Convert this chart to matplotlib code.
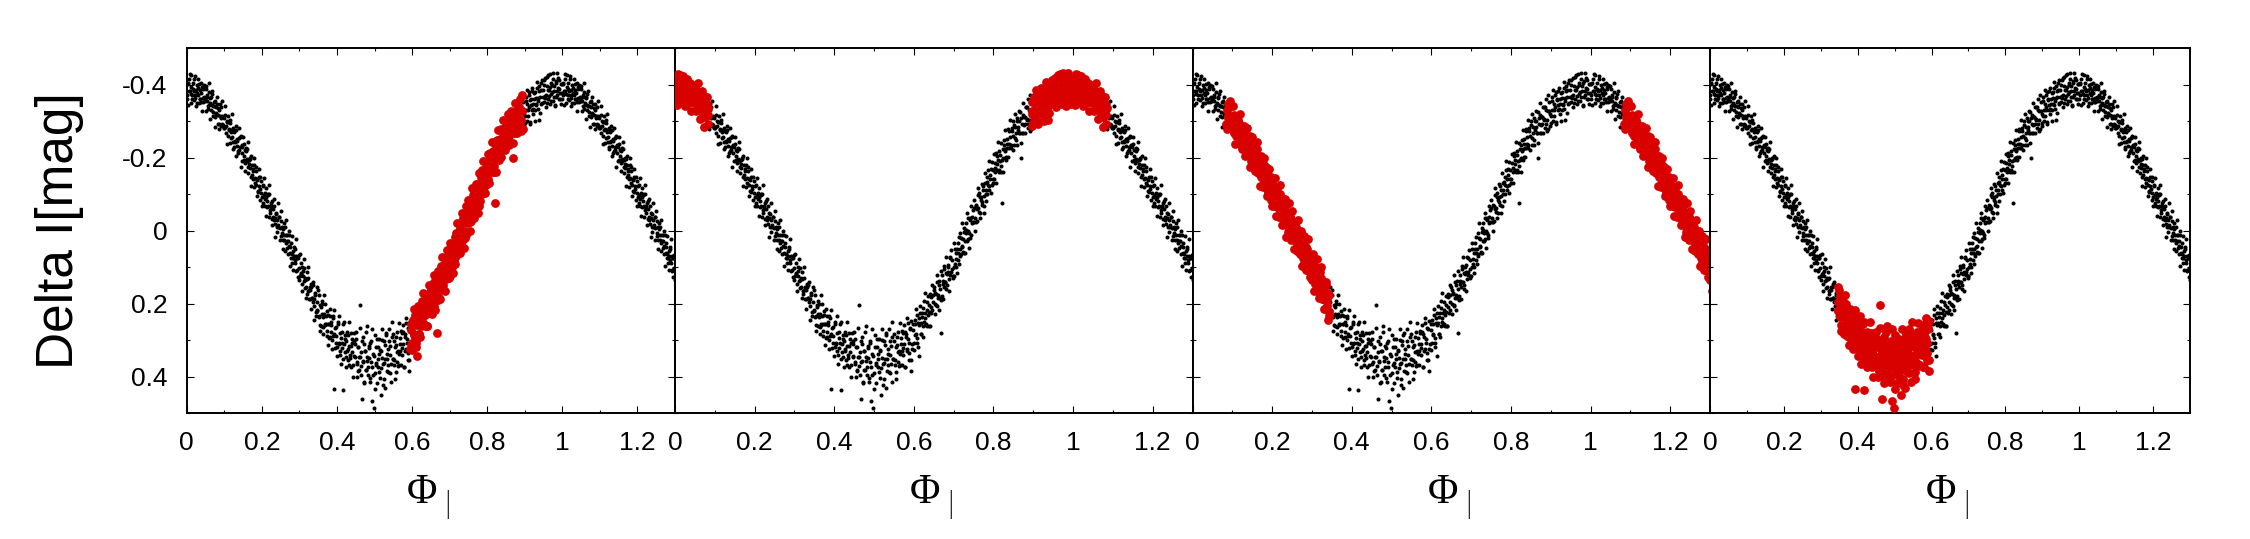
import numpy as np
import matplotlib
matplotlib.use("Agg")
import matplotlib.pyplot as plt
from matplotlib.ticker import MultipleLocator, FixedLocator, FuncFormatter

# ---- data: light curve (phase 0..1) ----
phase = [
    0.001,0.003,0.005,0.008,0.010,0.012,0.014,0.016,0.018,0.021,0.023,0.024,0.026,0.029,0.031,0.033,0.034,0.037,0.039,0.041,0.043,0.045,0.047,0.049,
    0.051,0.053,0.055,0.057,0.059,0.061,0.063,0.065,0.067,0.069,0.071,0.073,0.075,0.077,0.079,0.081,0.083,0.085,0.087,0.089,0.091,0.093,0.095,0.098,
    0.101,0.103,0.105,0.107,0.109,0.111,0.113,0.115,0.117,0.119,0.121,0.123,0.125,0.127,0.129,0.131,0.133,0.135,0.137,0.139,0.141,0.144,0.146,0.148,
    0.151,0.153,0.155,0.157,0.159,0.161,0.163,0.165,0.167,0.169,0.171,0.173,0.175,0.177,0.179,0.181,0.183,0.185,0.187,0.189,0.191,0.193,0.196,0.198,
    0.201,0.203,0.205,0.207,0.209,0.211,0.213,0.215,0.217,0.219,0.221,0.223,0.225,0.227,0.229,0.231,0.233,0.235,0.237,0.239,0.241,0.243,0.246,0.248,
    0.251,0.253,0.255,0.257,0.259,0.261,0.263,0.265,0.267,0.269,0.271,0.273,0.275,0.277,0.279,0.281,0.283,0.285,0.287,0.289,0.291,0.293,0.296,0.298,
    0.301,0.303,0.305,0.307,0.309,0.311,0.313,0.315,0.317,0.319,0.321,0.323,0.325,0.327,0.329,0.331,0.333,0.335,0.337,0.339,0.341,0.343,0.346,0.348,
    0.351,0.353,0.355,0.357,0.359,0.361,0.363,0.365,0.367,0.369,0.371,0.373,0.375,0.377,0.379,0.381,0.383,0.385,0.387,0.389,0.391,0.393,0.395,0.398,
    0.401,0.403,0.405,0.407,0.409,0.411,0.413,0.415,0.417,0.419,0.421,0.423,0.425,0.427,0.429,0.431,0.433,0.435,0.437,0.439,0.441,0.443,0.446,0.448,
    0.451,0.453,0.455,0.457,0.459,0.461,0.463,0.465,0.467,0.469,0.471,0.473,0.475,0.477,0.479,0.481,0.483,0.485,0.487,0.489,0.491,0.493,0.495,0.498,
    0.501,0.503,0.505,0.507,0.509,0.511,0.513,0.515,0.517,0.519,0.521,0.523,0.525,0.527,0.529,0.531,0.533,0.535,0.537,0.539,0.541,0.543,0.546,0.548,
    0.551,0.553,0.555,0.557,0.559,0.561,0.563,0.565,0.567,0.569,0.571,0.573,0.575,0.577,0.579,0.581,0.583,0.585,0.587,0.589,0.591,0.593,0.595,0.598,
    0.601,0.603,0.605,0.607,0.609,0.611,0.613,0.615,0.617,0.619,0.621,0.623,0.625,0.627,0.629,0.631,0.633,0.635,0.637,0.639,0.641,0.643,0.646,0.648,
    0.651,0.653,0.655,0.657,0.659,0.661,0.663,0.665,0.667,0.669,0.671,0.673,0.675,0.677,0.679,0.681,0.683,0.685,0.687,0.689,0.691,0.693,0.696,0.698,
    0.701,0.703,0.705,0.707,0.709,0.711,0.713,0.715,0.717,0.719,0.721,0.723,0.725,0.727,0.729,0.731,0.733,0.735,0.737,0.739,0.741,0.743,0.746,0.748,
    0.751,0.753,0.755,0.757,0.759,0.761,0.763,0.765,0.767,0.769,0.771,0.773,0.775,0.777,0.779,0.781,0.783,0.785,0.787,0.789,0.791,0.793,0.796,0.798,
    0.801,0.803,0.805,0.807,0.809,0.811,0.813,0.815,0.817,0.819,0.821,0.823,0.825,0.827,0.829,0.831,0.833,0.835,0.837,0.839,0.841,0.843,0.846,0.848,
    0.851,0.853,0.855,0.857,0.859,0.861,0.863,0.865,0.867,0.869,0.871,0.873,0.875,0.877,0.879,0.881,0.883,0.885,0.887,0.889,0.891,0.893,0.896,0.898,
    0.901,0.903,0.905,0.907,0.909,0.911,0.913,0.915,0.917,0.919,0.921,0.923,0.925,0.927,0.929,0.931,0.933,0.935,0.937,0.939,0.941,0.943,0.946,0.948,
    0.951,0.953,0.955,0.957,0.959,0.961,0.963,0.965,0.967,0.969,0.971,0.973,0.975,0.977,0.979,0.981,0.983,0.985,0.987,0.989,0.991,0.993,0.996,0.998,
    0.000,0.002,0.004,0.006,0.008,0.010,0.012,0.014,0.016,0.018,0.020,0.022,0.024,0.026,0.028,0.030,0.032,0.034,0.036,0.038,0.040,0.042,0.044,0.046,0.048,
    0.050,0.052,0.054,0.056,0.058,0.060,0.062,0.064,0.066,0.068,0.070,0.072,0.074,0.076,0.078,0.080,0.082,0.084,0.086,0.088,0.090,0.092,0.094,0.096,0.098,
    0.100,0.102,0.104,0.106,0.108,0.110,0.112,0.114,0.116,0.118,0.120,0.122,0.124,0.126,0.128,0.130,0.132,0.134,0.136,0.138,0.140,0.142,0.144,0.146,0.148,
    0.150,0.152,0.154,0.156,0.158,0.160,0.162,0.164,0.166,0.168,0.170,0.172,0.174,0.176,0.178,0.180,0.182,0.184,0.186,0.188,0.190,0.192,0.194,0.196,0.198,
    0.200,0.202,0.204,0.206,0.208,0.210,0.212,0.214,0.216,0.218,0.220,0.222,0.224,0.226,0.228,0.230,0.232,0.234,0.236,0.238,0.240,0.242,0.244,0.246,0.248,
    0.250,0.252,0.254,0.256,0.258,0.260,0.262,0.264,0.266,0.268,0.270,0.272,0.274,0.276,0.278,0.280,0.282,0.284,0.286,0.288,0.290,0.292,0.294,0.296,0.298,
    0.300,0.302,0.304,0.306,0.308,0.310,0.312,0.314,0.316,0.318,0.320,0.322,0.324,0.326,0.328,0.330,0.332,0.334,0.336,0.338,0.340,0.342,0.344,0.346,0.348,
    0.350,0.352,0.354,0.356,0.358,0.360,0.362,0.364,0.366,0.368,0.370,0.372,0.374,0.376,0.378,0.380,0.382,0.384,0.386,0.388,0.390,0.392,0.394,0.396,0.398,
    0.400,0.402,0.404,0.406,0.408,0.410,0.412,0.414,0.416,0.418,0.420,0.422,0.424,0.426,0.428,0.430,0.432,0.434,0.436,0.438,0.440,0.442,0.444,0.446,0.448,
    0.450,0.452,0.454,0.456,0.458,0.460,0.462,0.464,0.466,0.468,0.470,0.472,0.474,0.476,0.478,0.480,0.482,0.484,0.486,0.488,0.490,0.492,0.494,0.496,0.498,
    0.500,0.502,0.504,0.506,0.508,0.510,0.512,0.514,0.516,0.518,0.520,0.522,0.524,0.526,0.528,0.530,0.532,0.534,0.536,0.538,0.540,0.542,0.544,0.546,0.548,
    0.550,0.552,0.554,0.556,0.558,0.560,0.562,0.564,0.566,0.568,0.570,0.572,0.574,0.576,0.578,0.580,0.582,0.584,0.586,0.588,0.590,0.592,0.594,0.596,0.598,
    0.600,0.602,0.604,0.606,0.608,0.610,0.612,0.614,0.616,0.618,0.620,0.622,0.624,0.626,0.628,0.630,0.632,0.634,0.636,0.638,0.640,0.642,0.644,0.646,0.648,
    0.650,0.652,0.654,0.656,0.658,0.660,0.662,0.664,0.666,0.668,0.670,0.672,0.674,0.676,0.678,0.680,0.682,0.684,0.686,0.688,0.690,0.692,0.694,0.696,0.698,
    0.700,0.702,0.704,0.706,0.708,0.710,0.712,0.714,0.716,0.718,0.720,0.722,0.724,0.726,0.728,0.730,0.732,0.734,0.736,0.738,0.740,0.742,0.744,0.746,0.748,
    0.750,0.752,0.754,0.756,0.758,0.760,0.762,0.764,0.766,0.768,0.770,0.772,0.774,0.776,0.778,0.780,0.782,0.784,0.786,0.788,0.790,0.792,0.794,0.796,0.798,
    0.800,0.802,0.804,0.806,0.808,0.810,0.812,0.814,0.816,0.818,0.820,0.822,0.824,0.826,0.828,0.830,0.832,0.834,0.836,0.838,0.840,0.842,0.844,0.846,0.848,
    0.850,0.852,0.854,0.856,0.858,0.860,0.862,0.864,0.866,0.868,0.870,0.872,0.874,0.876,0.878,0.880,0.882,0.884,0.886,0.888,0.890,0.892,0.894,0.896,0.898,
    0.900,0.902,0.904,0.906,0.908,0.910,0.912,0.914,0.916,0.918,0.920,0.922,0.924,0.926,0.928,0.930,0.932,0.934,0.936,0.938,0.940,0.942,0.944,0.946,0.948,
    0.950,0.952,0.954,0.956,0.958,0.960,0.962,0.964,0.966,0.968,0.970,0.972,0.974,0.976,0.978,0.980,0.982,0.984,0.986,0.988,0.990,0.992,0.994,0.996,0.998,
]
delta_i = [
    -0.370,-0.404,-0.383,-0.428,-0.374,-0.393,-0.359,-0.404,-0.383,-0.422,-0.363,-0.385,-0.350,-0.390,-0.370,-0.402,-0.361,-0.377,-0.352,-0.392,-0.363,-0.400,-0.367,-0.354,
    -0.387,-0.354,-0.367,-0.334,-0.379,-0.348,-0.362,-0.330,-0.374,-0.340,-0.326,-0.352,-0.311,-0.338,-0.318,-0.347,-0.316,-0.291,-0.330,-0.314,-0.338,-0.293,-0.315,-0.282,
    -0.284,-0.316,-0.286,-0.298,-0.259,-0.298,-0.277,-0.303,-0.254,-0.274,-0.255,-0.281,-0.229,-0.269,-0.246,-0.274,-0.231,-0.245,-0.218,-0.253,-0.229,-0.259,-0.213,-0.230,
    -0.238,-0.204,-0.185,-0.218,-0.197,-0.222,-0.174,-0.193,-0.171,-0.197,-0.146,-0.179,-0.164,-0.140,-0.179,-0.145,-0.162,-0.125,-0.142,-0.108,-0.147,-0.121,-0.147,-0.103,
    -0.092,-0.126,-0.096,-0.067,-0.103,-0.091,-0.064,-0.098,-0.067,-0.099,-0.055,-0.063,-0.075,-0.031,-0.059,-0.030,-0.068,-0.034,-0.048,-0.010,-0.030,-0.009,-0.038,-0.006,
    -0.027,0.007,0.027,-0.003,0.012,-0.010,0.034,0.011,0.048,0.028,0.043,0.013,0.063,0.033,0.065,0.088,0.057,0.071,0.050,0.089,0.070,0.109,0.074,0.102,
    0.124,0.090,0.116,0.146,0.110,0.138,0.104,0.136,0.156,0.134,0.173,0.130,0.164,0.156,0.188,0.154,0.185,0.148,0.197,0.187,0.172,0.223,0.195,0.219,
    0.177,0.235,0.259,0.209,0.230,0.200,0.264,0.230,0.255,0.200,0.255,0.274,0.231,0.255,0.294,0.235,0.277,0.258,0.299,0.239,0.283,0.434,0.267,0.309,
    0.319,0.257,0.307,0.281,0.342,0.294,0.323,0.257,0.436,0.312,0.285,0.347,0.303,0.331,0.285,0.368,0.317,0.348,0.281,0.334,0.309,0.368,0.304,0.347,
    0.296,0.361,0.319,0.384,0.346,0.205,0.372,0.334,0.462,0.357,0.310,0.415,0.329,0.382,0.262,0.346,0.373,0.323,0.405,0.308,0.361,0.467,0.339,0.486,
    0.433,0.318,0.363,0.296,0.374,0.339,0.388,0.327,0.451,0.350,0.300,0.423,0.364,0.315,0.431,0.281,0.351,0.325,0.387,0.302,0.340,0.366,0.252,0.353,
    0.304,0.354,0.408,0.315,0.360,0.277,0.329,0.369,0.295,0.330,0.274,0.341,0.312,0.278,0.373,0.293,0.325,0.253,0.307,0.354,0.271,0.385,0.326,0.257,
    0.309,0.255,0.283,0.232,0.309,0.254,0.343,0.225,0.253,0.283,0.227,0.263,0.194,0.240,0.226,0.257,0.197,0.231,0.204,0.262,0.175,0.209,0.218,0.178,
    0.164,0.200,0.173,0.208,0.141,0.177,0.150,0.185,0.281,0.190,0.123,0.146,0.156,0.098,0.141,0.116,0.150,0.099,0.115,0.132,0.075,0.113,0.082,0.124,
    0.101,0.051,0.079,0.100,0.051,0.080,0.017,0.051,0.070,0.020,0.044,0.024,0.061,-0.006,0.028,-0.001,0.028,-0.034,0.000,0.006,-0.033,0.011,-0.036,-0.023,
    -0.063,-0.035,-0.024,-0.067,-0.059,-0.098,-0.052,-0.092,-0.047,-0.091,-0.077,-0.123,-0.094,-0.066,-0.131,-0.112,-0.133,-0.101,-0.166,-0.123,-0.142,-0.169,-0.124,-0.167,
    -0.142,-0.185,-0.170,-0.211,-0.167,-0.192,-0.159,-0.219,-0.191,-0.177,-0.076,-0.222,-0.198,-0.249,-0.223,-0.193,-0.250,-0.227,-0.278,-0.226,-0.257,-0.226,-0.281,-0.258,
    -0.290,-0.254,-0.284,-0.248,-0.308,-0.275,-0.300,-0.266,-0.324,-0.198,-0.293,-0.317,-0.268,-0.310,-0.292,-0.338,-0.302,-0.337,-0.291,-0.330,-0.273,-0.372,-0.327,-0.287,
    -0.314,-0.355,-0.299,-0.347,-0.329,-0.371,-0.293,-0.358,-0.345,-0.383,-0.333,-0.346,-0.377,-0.329,-0.362,-0.345,-0.391,-0.354,-0.304,-0.383,-0.366,-0.405,-0.348,-0.385,
    -0.398,-0.362,-0.417,-0.371,-0.349,-0.386,-0.425,-0.368,-0.392,-0.355,-0.404,-0.379,-0.431,-0.366,-0.395,-0.342,-0.410,-0.383,-0.372,-0.419,-0.388,-0.361,-0.402,-0.378,
    -0.359,-0.401,-0.344,-0.415,-0.382,-0.350,-0.426,-0.370,-0.387,-0.358,-0.415,-0.372,-0.340,-0.399,-0.377,-0.415,-0.349,-0.384,-0.359,-0.405,-0.328,-0.388,-0.351,-0.396,-0.360,
    -0.396,-0.328,-0.372,-0.341,-0.404,-0.343,-0.305,-0.367,-0.344,-0.381,-0.313,-0.341,-0.284,-0.355,-0.321,-0.367,-0.291,-0.335,-0.277,-0.346,-0.307,-0.287,-0.356,-0.290,-0.309,
    -0.282,-0.340,-0.267,-0.301,-0.238,-0.314,-0.275,-0.241,-0.294,-0.270,-0.320,-0.242,-0.222,-0.272,-0.243,-0.286,-0.203,-0.251,-0.212,-0.280,-0.221,-0.257,-0.175,-0.235,-0.190,
    -0.257,-0.194,-0.221,-0.162,-0.227,-0.190,-0.243,-0.158,-0.182,-0.198,-0.122,-0.205,-0.153,-0.169,-0.119,-0.198,-0.131,-0.173,-0.094,-0.138,-0.106,-0.168,-0.113,-0.084,-0.135,
    -0.068,-0.121,-0.074,-0.144,-0.085,-0.039,-0.117,-0.080,-0.100,-0.038,-0.124,-0.049,-0.066,-0.014,-0.081,-0.038,-0.085,-0.017,0.019,-0.046,0.003,-0.074,-0.016,-0.037,0.026,
    -0.054,0.014,-0.009,0.050,-0.021,0.025,0.055,-0.030,0.030,0.013,0.065,0.002,0.098,0.044,0.076,0.014,0.076,0.108,0.045,0.082,0.023,0.111,0.076,0.128,0.066,
    0.136,0.064,0.120,0.166,0.099,0.126,0.079,0.158,0.129,0.184,0.114,0.165,0.100,0.189,0.162,0.215,0.147,0.184,0.141,0.206,0.246,0.178,0.234,0.156,0.220,
    0.162,0.238,0.276,0.204,0.261,0.192,0.238,0.284,0.178,0.258,0.235,0.290,0.221,0.315,0.257,0.214,0.291,0.251,0.324,0.233,0.289,0.217,0.321,0.290,0.265,
    0.344,0.251,0.311,0.233,0.330,0.367,0.277,0.307,0.351,0.251,0.334,0.297,0.373,0.277,0.325,0.356,0.252,0.342,0.316,0.374,0.296,0.400,0.282,0.345,0.312,
    0.277,0.367,0.402,0.318,0.382,0.266,0.347,0.396,0.304,0.360,0.291,0.419,0.331,0.382,0.278,0.357,0.397,0.317,0.348,0.414,0.303,0.373,0.269,0.396,0.344,
    0.390,0.286,0.368,0.419,0.320,0.353,0.297,0.404,0.331,0.377,0.269,0.367,0.406,0.304,0.352,0.285,0.385,0.337,0.368,0.270,0.390,0.317,0.414,0.293,0.351,
    0.283,0.369,0.319,0.389,0.292,0.333,0.370,0.254,0.339,0.310,0.368,0.282,0.323,0.259,0.373,0.284,0.331,0.240,0.298,0.336,0.267,0.354,0.247,0.311,0.273,
    0.327,0.246,0.286,0.215,0.294,0.320,0.241,0.260,0.208,0.284,0.236,0.291,0.212,0.252,0.170,0.258,0.219,0.263,0.179,0.222,0.263,0.183,0.225,0.149,0.196,
    0.155,0.230,0.170,0.203,0.123,0.184,0.218,0.137,0.159,0.111,0.180,0.138,0.188,0.106,0.141,0.072,0.160,0.120,0.095,0.167,0.073,0.123,0.053,0.105,0.129,
    0.124,0.034,0.093,0.061,0.117,0.033,0.061,0.093,0.007,0.064,-0.020,0.043,0.060,0.003,0.063,-0.021,0.007,-0.049,0.023,0.047,-0.028,0.020,-0.066,-0.021,-0.057,
    -0.084,-0.024,0.000,-0.071,-0.027,-0.117,-0.062,-0.104,-0.035,-0.084,-0.128,-0.069,-0.110,-0.049,-0.157,-0.101,-0.081,-0.146,-0.126,-0.190,-0.110,-0.151,-0.102,-0.188,-0.142,
    -0.130,-0.210,-0.161,-0.129,-0.205,-0.182,-0.243,-0.167,-0.208,-0.160,-0.239,-0.193,-0.160,-0.235,-0.218,-0.274,-0.201,-0.238,-0.201,-0.272,-0.236,-0.303,-0.233,-0.273,-0.220,
    -0.300,-0.235,-0.320,-0.267,-0.233,-0.301,-0.283,-0.327,-0.266,-0.241,-0.308,-0.268,-0.349,-0.288,-0.312,-0.267,-0.338,-0.306,-0.281,-0.360,-0.302,-0.328,-0.278,-0.352,-0.319,
    -0.294,-0.365,-0.329,-0.384,-0.315,-0.339,-0.380,-0.298,-0.361,-0.330,-0.390,-0.320,-0.360,-0.301,-0.379,-0.347,-0.407,-0.333,-0.363,-0.396,-0.323,-0.386,-0.347,-0.413,-0.366,
    -0.352,-0.411,-0.369,-0.338,-0.397,-0.421,-0.360,-0.385,-0.347,-0.428,-0.374,-0.399,-0.356,-0.416,-0.381,-0.343,-0.405,-0.367,-0.432,-0.390,-0.359,-0.412,-0.377,-0.346,-0.401,
]

# phase window highlighted in red in each panel (start, end), may wrap past 1
red_windows = [(0.595, 0.895), (0.895, 0.085), (0.085, 0.345), (0.345, 0.595)]
x_ticks = [0, 0.2, 0.4, 0.6, 0.8, 1.0, 1.2]
y_ticks = [-0.4, -0.2, 0, 0.2, 0.4]
x_label_main = "\u03a6"
x_label_sub = "I"
y_label = "Delta I[mag]"

plt.rcParams["font.family"] = ["Liberation Sans", "DejaVu Sans"]

W, H = 2250, 539
fig = plt.figure(figsize=(W / 100, H / 100), dpi=100)

lefts = [186.8, 675.0, 1192.5, 1710.0]
rights = [675.0, 1192.5, 1710.0, 2190.0]
top_px, bot_px = 48, 413

ph = np.array(phase)
dm = np.array(delta_i)
ext = ph < 0.33
ph_all = np.concatenate([ph, ph[ext] + 1.0])
dm_all = np.concatenate([dm, dm[ext]])
base = np.concatenate([ph, ph[ext]])

red_col = "#d90000"
fmt = FuncFormatter(lambda v, p: "%g" % round(v, 3))

for i in range(4):
    l, r = lefts[i], rights[i]
    ax = fig.add_axes([l / W, (H - bot_px) / H, (r - l) / W, (bot_px - top_px) / H])
    lo, hi = red_windows[i]
    if lo < hi:
        m = (base >= lo) & (base < hi)
    else:
        m = (base >= lo) | (base < hi)
    ax.scatter(ph_all, dm_all, s=8.5, c="black", linewidths=0, zorder=2)
    ax.scatter(ph_all[m], dm_all[m], s=40, c=red_col, linewidths=0, zorder=3)
    ax.set_xlim(0, 1.3)
    ax.set_ylim(0.5, -0.5)
    ax.xaxis.set_major_locator(FixedLocator(x_ticks))
    ax.xaxis.set_minor_locator(MultipleLocator(0.1))
    ax.yaxis.set_major_locator(FixedLocator(y_ticks))
    ax.yaxis.set_minor_locator(MultipleLocator(0.1))
    ax.xaxis.set_major_formatter(fmt)
    ax.yaxis.set_major_formatter(fmt)
    ax.tick_params(which="both", direction="in", top=True, right=True,
                   width=0.8, labelsize=19)
    ax.tick_params(which="major", length=5)
    ax.tick_params(which="minor", length=2.5)
    ax.tick_params(axis="x", pad=13)
    ax.tick_params(axis="y", pad=14)
    if i > 0:
        ax.tick_params(axis="y", labelleft=False)
    for sp in ax.spines.values():
        sp.set_linewidth(1.4)
    cx = (l + r) / 2
    fig.text((cx - 8.6) / W, (H - 503) / H, x_label_main, ha="center", va="baseline",
             fontsize=30, family="Liberation Serif")
    fig.text((cx + 17) / W, (H - 519) / H, x_label_sub, ha="center", va="baseline",
             fontsize=29, family=["Roboto", "Liberation Sans"], fontweight="light")

fig.text(60 / W, (H - 230.5) / H, y_label, rotation=90, ha="center", va="center",
         fontsize=37)

fig.savefig("out.png", dpi=100)
